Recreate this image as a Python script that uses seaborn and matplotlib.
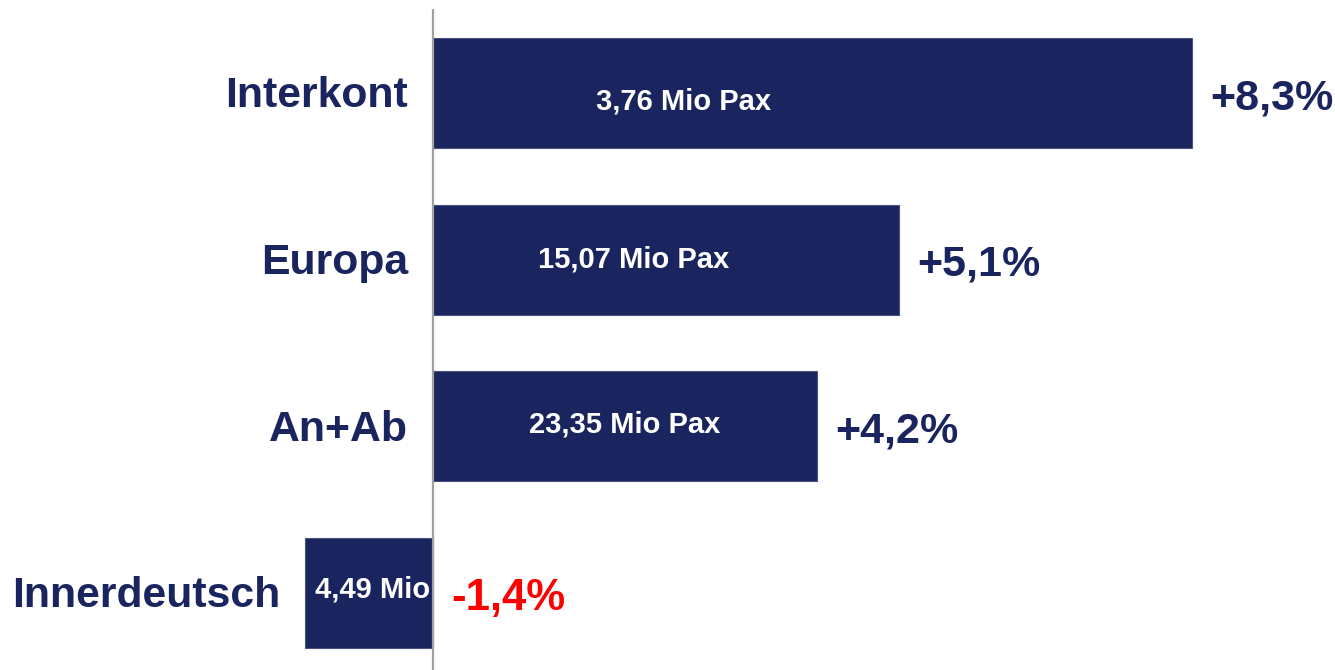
import matplotlib
matplotlib.use("Agg")
import matplotlib.pyplot as plt
import seaborn as sns

# Daten
categories = ["Interkont", "Europa", "An+Ab", "Innerdeutsch"]
growth = [8.3, 5.1, 4.2, -1.4]
growth_labels = ["+8,3%", "+5,1%", "+4,2%", "-1,4%"]
pax_labels = ["3,76 Mio Pax", "15,07 Mio Pax", "23,35 Mio Pax", "4,49 Mio"]

navy = "#1A245E"
red = "#FF0000"

sns.set_style("white")
plt.rcParams["font.family"] = ["Liberation Sans", "DejaVu Sans"]
plt.rcParams["font.weight"] = "bold"

fig = plt.figure(figsize=(13.35, 6.7), dpi=100)
ax = fig.add_axes([0, 0, 1, 1])

sns.barplot(x=growth, y=categories, orient="h", color=navy, saturation=1,
            width=0.66, edgecolor="#4a5280", linewidth=0.8, ax=ax)

# Skala: 0 bei x=433 px, ca. 91.4 px pro Prozentpunkt
ax.set_xlim(-4.737, 9.869)
ax.set_ylim(3.461, -0.558)
ax.axvline(0, ymin=0, ymax=1 - 10 / 670, color="#A0A0A0", lw=1.6, zorder=5)

# Position der Pax-Beschriftung als Anteil der Balkenlänge
pax_pos = [0.33, 0.43, 0.5, 0.47]
pax_dy = [0.05, 0.0, -0.01, -0.02]

for i, (v, gl, pl) in enumerate(zip(growth, growth_labels, pax_labels)):
    # Kategorie links vom Balken
    ax.text(min(v, 0) - 0.27, i + 0.02, categories[i], ha="right", va="center",
            fontsize=30.8, fontweight="bold", color=navy)
    # Veränderung rechts vom Balken bzw. rechts der Nulllinie
    x = max(v, 0) + 0.2
    ax.text(x, i + 0.03, gl, ha="left", va="center",
            fontsize=31.5 if v < 0 else 31, fontweight="bold",
            color=red if v < 0 else navy)
    # Passagiere im Balken
    ax.text(v * pax_pos[i], i + pax_dy[i], pl, ha="center", va="center",
            fontsize=21, fontweight="bold", color="white")

ax.set_xlabel("")
ax.set_ylabel("")
ax.set_xticks([])
ax.set_yticks([])
sns.despine(ax=ax, left=True, bottom=True)

fig.savefig("out.png", dpi=100)
plt.close()
